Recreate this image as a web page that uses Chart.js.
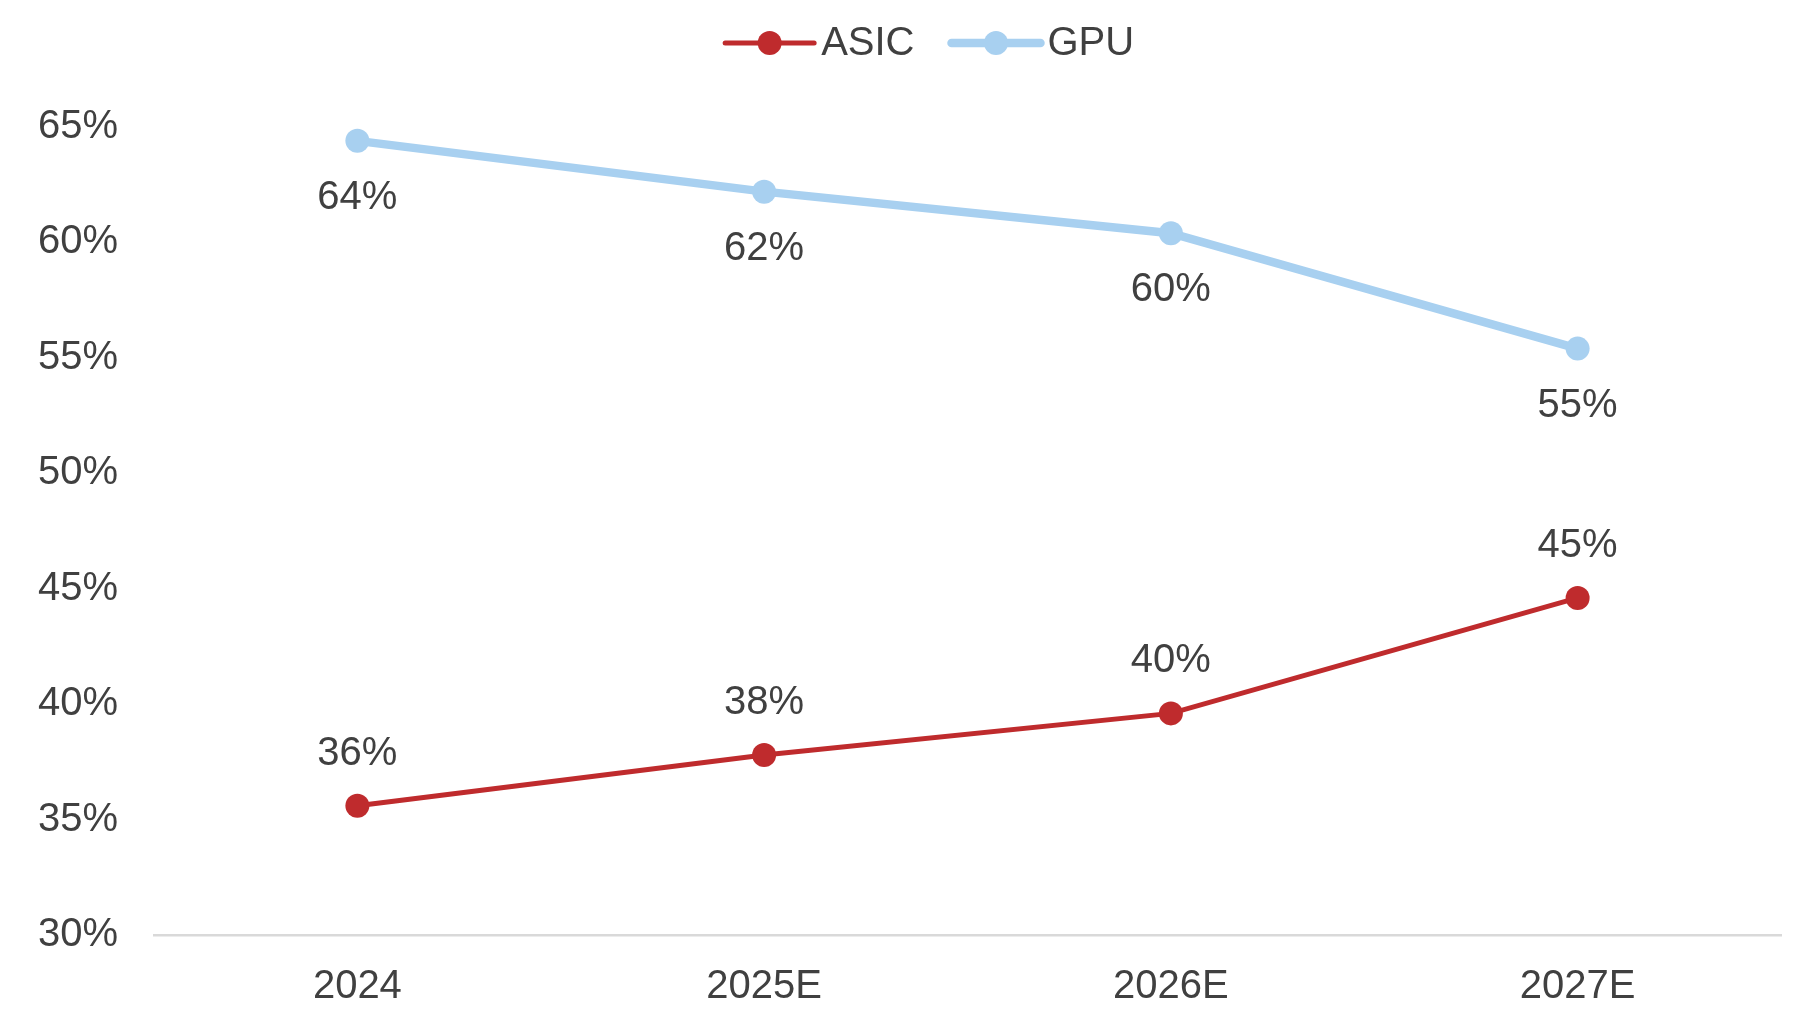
<!DOCTYPE html>
<html>
<head>
<meta charset="utf-8">
<title>ASIC vs GPU</title>
<script src="https://cdn.jsdelivr.net/npm/chart.js@4.4.1/dist/chart.umd.min.js"></script>
<style>
  html, body { margin: 0; padding: 0; background: #fff; }
  #wrap { width: 1793px; height: 1010px; position: relative; }
</style>
</head>
<body>
<div id="wrap"><canvas id="chart"></canvas></div>
<script>
// Chart data
const years = ['2024', '2025E', '2026E', '2027E'];
const asicShare = [35.6, 37.8, 39.6, 44.6];
const gpuShare = [64.4, 62.2, 60.4, 55.4];
const yTicks = [30, 35, 40, 45, 50, 55, 60, 65];

const RED = '#BF2B2D';
const BLUE = '#A8D0F0';
const TEXT = '#404040';
const FONT = '"Liberation Sans", Arial, sans-serif';

// Value labels: GPU below its points, ASIC above
const valueLabels = {
  id: 'valueLabels',
  afterDatasetsDraw(chart) {
    const ctx = chart.ctx;
    ctx.save();
    ctx.font = '40px ' + FONT;
    ctx.fillStyle = TEXT;
    ctx.textAlign = 'center';
    ctx.textBaseline = 'middle';
    chart.data.datasets.forEach((ds, i) => {
      const meta = chart.getDatasetMeta(i);
      meta.data.forEach((pt, j) => {
        const offset = ds.label === 'GPU' ? 57 : -52;
        ctx.fillText(Math.round(ds.data[j]) + '%', pt.x, pt.y + offset);
      });
    });
    ctx.restore();
  }
};

// Legend drawn by hand: line with a dot in the middle, then the name
const lineLegend = {
  id: 'lineLegend',
  afterDraw(chart) {
    const ctx = chart.ctx;
    const y = 43;
    const lineLen = 89;
    const gap = 7;
    const itemGap = 37;
    ctx.save();
    ctx.font = '40px ' + FONT;
    const items = chart.data.datasets.map(ds => ({
      label: ds.label,
      color: ds.borderColor,
      width: ds.borderWidth,
      textW: ctx.measureText(ds.label).width
    }));
    let total = 0;
    items.forEach((it, i) => {
      total += lineLen + gap + it.textW + (i < items.length - 1 ? itemGap : 0);
    });
    let x = chart.width * 0.5185 - total / 2;
    items.forEach(it => {
      ctx.strokeStyle = it.color;
      ctx.lineWidth = it.width;
      ctx.lineCap = 'round';
      ctx.beginPath();
      ctx.moveTo(x, y);
      ctx.lineTo(x + lineLen, y);
      ctx.stroke();
      ctx.fillStyle = it.color;
      ctx.beginPath();
      ctx.arc(x + lineLen / 2, y, 12, 0, Math.PI * 2);
      ctx.fill();
      ctx.fillStyle = TEXT;
      ctx.textAlign = 'left';
      ctx.textBaseline = 'middle';
      ctx.fillText(it.label, x + lineLen + gap, y + 1);
      x += lineLen + gap + it.textW + itemGap;
    });
    ctx.restore();
  }
};

new Chart(document.getElementById('chart'), {
  type: 'line',
  data: {
    labels: years,
    datasets: [
      {
        label: 'ASIC',
        data: asicShare,
        borderColor: RED,
        backgroundColor: RED,
        borderWidth: 5,
        pointRadius: 12,
        pointHoverRadius: 12,
        pointBorderWidth: 0,
        tension: 0
      },
      {
        label: 'GPU',
        data: gpuShare,
        borderColor: BLUE,
        backgroundColor: BLUE,
        borderWidth: 8.5,
        pointRadius: 12,
        pointHoverRadius: 12,
        pointBorderWidth: 0,
        tension: 0
      }
    ]
  },
  options: {
    responsive: true,
    maintainAspectRatio: false,
    animation: false,
    layout: {
      padding: { top: 127, left: 0, right: 11, bottom: 0 }
    },
    plugins: {
      legend: { display: false },
      tooltip: { enabled: false }
    },
    scales: {
      x: {
        offset: true,
        grid: { display: false, drawTicks: false },
        border: { display: true, color: '#D9D9D9', width: 2.5 },
        ticks: {
          padding: 28,
          color: TEXT,
          font: { family: FONT, size: 40 }
        },
        afterFit(axis) { axis.height = 75; }
      },
      y: {
        min: yTicks[0],
        max: yTicks[yTicks.length - 1],
        afterBuildTicks(axis) {
          axis.ticks = yTicks.map(v => ({ value: v }));
        },
        grid: { display: false, drawTicks: false },
        border: { display: false },
        ticks: {
          padding: 36,
          color: TEXT,
          font: { family: FONT, size: 40 },
          callback: v => v + '%'
        },
        afterFit(axis) { axis.width = 154; }
      }
    }
  },
  plugins: [valueLabels, lineLegend]
});
</script>
</body>
</html>
